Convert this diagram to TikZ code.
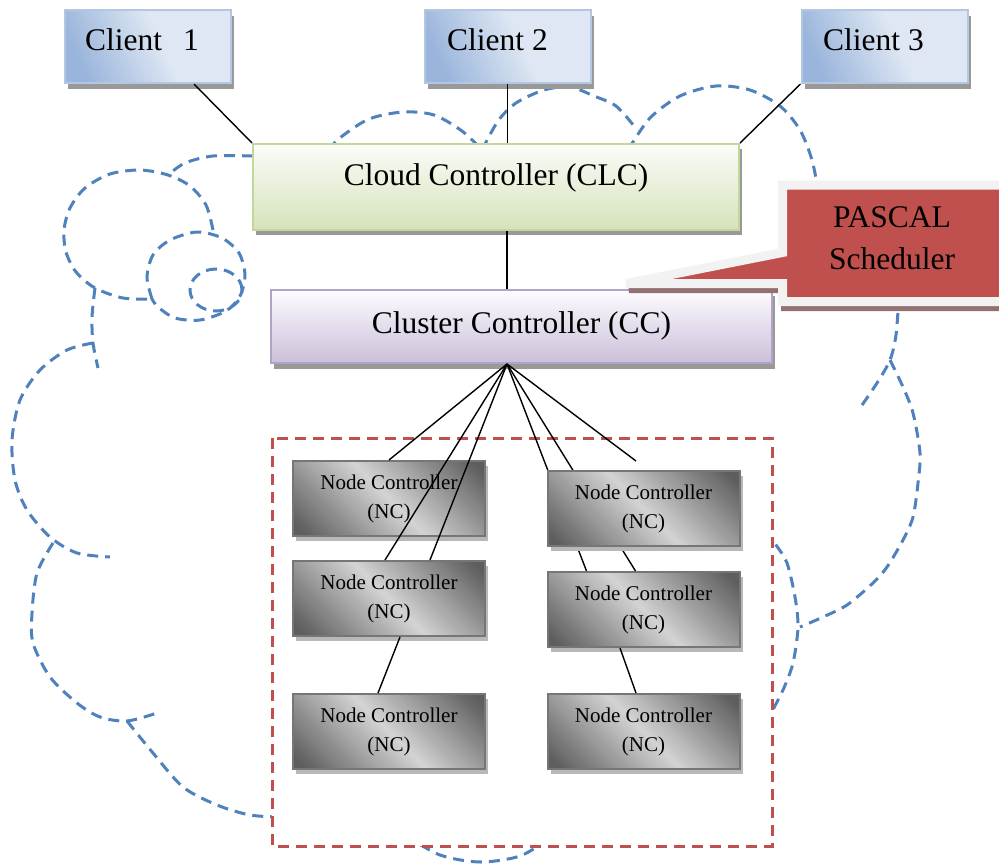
\documentclass[tikz,border=0pt]{standalone}
\usepackage{fontspec}
\setmainfont{Liberation Serif}
\usetikzlibrary{shadows,calc}
\definecolor{cloudblue}{HTML}{4F81BD}
\definecolor{redline}{HTML}{C0504D}
\definecolor{pascalred}{HTML}{C0504D}
\definecolor{pascalborder}{HTML}{F2F2F2}
\definecolor{cldark}{HTML}{9AB5DB}
\definecolor{cllight}{HTML}{DEE7F3}
\definecolor{clborder}{HTML}{B3C7E3}
\definecolor{clctop}{HTML}{FBFCF8}
\definecolor{clcbot}{HTML}{D5E2BB}
\definecolor{clcborder}{HTML}{C3D69B}
\definecolor{cctop}{HTML}{FDFCFE}
\definecolor{ccbot}{HTML}{CBBFDA}
\definecolor{ccborder}{HTML}{B3A2C7}
\definecolor{ncdark}{HTML}{5E5E5E}
\definecolor{nclight}{HTML}{D3D3D3}
\definecolor{ncborder}{HTML}{767676}
\definecolor{shadowgray}{HTML}{999999}
\definecolor{ncshadow}{HTML}{B8B8B8}
\definecolor{redshadow}{HTML}{947070}
\pgfdeclarehorizontalshading{ncshade}{100bp}{color(0bp)=(ncdark); color(18bp)=(ncdark); color(50bp)=(nclight); color(82bp)=(ncdark); color(100bp)=(ncdark)}
\pgfdeclarehorizontalshading{clshade}{100bp}{color(0bp)=(cldark); color(25bp)=(cldark); color(55bp)=(cllight); color(100bp)=(cllight)}
\tikzset{
  cloudline/.style={draw=cloudblue, line width=3pt, dash pattern=on 11pt off 7pt},
  groupbox/.style={draw=redline, line width=3pt, dash pattern=on 11pt off 7pt, fill=white},
  bigfont/.style={font=\fontsize{31.5pt}{42pt}\selectfont},
  clientbox/.style={rectangle, shade, shading=clshade, shading angle=25, draw=clborder, line width=2pt,
    minimum width=166pt, minimum height=73pt, inner sep=0pt, bigfont, text height=21.5pt, text depth=14.5pt,
    general shadow={fill=shadowgray, shadow xshift=3pt, shadow yshift=-6pt}},
  clcbox/.style={rectangle, top color=clctop, bottom color=clcbot, draw=clcborder, line width=2pt,
    minimum width=486pt, minimum height=86pt, inner sep=0pt, bigfont, text height=21.5pt, text depth=25.5pt,
    general shadow={fill=shadowgray, shadow xshift=3pt, shadow yshift=-5pt}},
  ccbox/.style={rectangle, top color=cctop, bottom color=ccbot, draw=ccborder, line width=2pt,
    minimum width=501pt, minimum height=73pt, inner sep=0pt, bigfont, text height=21.5pt, text depth=7pt,
    general shadow={fill=shadowgray, shadow xshift=3pt, shadow yshift=-6pt}},
  ncbox/.style={rectangle, shade, shading=ncshade, shading angle=45, draw=ncborder, line width=2pt,
    minimum width=192pt, minimum height=75pt, inner sep=0pt, align=center, font=\fontsize{21pt}{29pt}\selectfont,
    general shadow={fill=ncshadow, shadow xshift=3pt, shadow yshift=-5pt}},
  pascaltext/.style={bigfont, align=center, inner sep=0pt},
  conn/.style={draw=black, line width=1.4pt}
}
\begin{document}
\begin{tikzpicture}[x=1pt, y=-1pt]
\useasboundingbox (0,0) rectangle (999,865);
% cloud outline
\draw[cloudline] plot[smooth] coordinates {(253,156) (213,156) (185,163) (168,175)};
\draw[cloudline] plot[smooth] coordinates {(213,230) (206,205) (190,186) (168,175) (140,170) (110,174) (85,188) (70,208) (64,230) (66,252) (76,272) (95,288) (123,298) (152,299)};
\draw[cloudline] plot[smooth] coordinates {(152,299) (147,277) (153,255) (170,240) (197,232) (222,238) (239,253) (245,275) (240,296) (226,311) (200,320) (175,318) (158,307) (152,299)};
\draw[cloudline] (216,290) ellipse [x radius=26pt, y radius=21pt];
\draw[cloudline] plot[smooth] coordinates {(95,288) (92,317) (93,343) (98,368)};
\draw[cloudline] plot[smooth] coordinates {(93,343) (67,350) (40,370) (20,400) (12,440) (15,480) (27,510) (50,537) (77,553) (110,557)};
\draw[cloudline] plot[smooth] coordinates {(53,543) (37,573) (32,613) (33,643) (50,677) (77,703) (100,717) (127,721) (157,713)};
\draw[cloudline] plot[smooth] coordinates {(127,721) (153,753) (183,787) (217,805) (250,815) (280,817)};
\draw[cloudline] plot[smooth] coordinates {(405,835) (440,855) (480,862) (520,856) (550,838)};
\draw[cloudline] plot[smooth] coordinates {(899,295) (896,335) (890,360) (877,383) (860,408)};
\draw[cloudline] plot[smooth] coordinates {(890,360) (903,387) (913,413) (920,453) (918,483) (913,517) (903,540) (887,567) (873,583) (847,605) (823,617) (800,627)};
\draw[cloudline] plot[smooth] coordinates {(765,530) (776,545) (787,563) (795,597) (798,627) (793,663) (783,690) (770,715)};
\draw[cloudline] plot[smooth] coordinates {(328,150) (341,137) (369,119) (403,112) (434,115) (462,131) (482,150)};
\draw[cloudline] plot[smooth] coordinates {(482,150) (498,121) (516,103) (544,90) (570,87) (594,96) (616,106) (634,126)};
\draw[cloudline] plot[smooth] coordinates {(628,150) (650,118) (680,96) (716,86) (750,90) (780,106) (800,130) (812,160) (818,190)};
% group of node controllers
\draw[groupbox] (272,438) rectangle (772,846);
% clients and controllers
\node[clientbox] (c1) at (148,46.5) {\hspace*{-6pt}Client\hspace{21pt}1\hspace*{6pt}};
\node[clientbox] (c2) at (507.5,46.5) {\hspace*{-10pt}Client 2\hspace*{10pt}};
\node[clientbox] (c3) at (884.5,46.5) {\hspace*{-11pt}Client 3\hspace*{11pt}};
\node[clcbox] (clc) at (496,187) {Cloud Controller (CLC)};
\node[ccbox] (cc) at (521.5,326.5) {Cluster Controller (CC)};
\draw[conn] ([xshift=-38pt]c1.south east) -- (clc.north west);
\draw[conn] (c2.south) -- (c2.south |- clc.north);
\draw[conn] (c3.south west) -- (clc.north east);
\draw[conn] ([xshift=11pt]clc.south) -- ([xshift=11pt]clc.south |- cc.north);
% PASCAL callout
\path[fill=redshadow, draw=redshadow, line width=9pt, shift={(3,5)}] (782.5,185) -- (1004,185) -- (1004,301.5) -- (782.5,301.5) -- (782.5,283.5) -- (626,283.5) -- (782.5,252.5) -- cycle;
\path[fill=pascalred, draw=pascalborder, line width=9pt] (782.5,185) -- (1004,185) -- (1004,301.5) -- (782.5,301.5) -- (782.5,283.5) -- (626,283.5) -- (782.5,252.5) -- cycle;
\node[pascaltext] (pascal) at (892,238.5) {PASCAL\\Scheduler};
% node controllers
\coordinate (fan) at ([xshift=-14.5pt]cc.south);
\node[ncbox] (nc1) at (389,498.5) {Node Controller\\(NC)};
\node[ncbox] (nc2) at (389,598.5) {Node Controller\\(NC)};
\node[ncbox] (nc3) at (389,731.5) {Node Controller\\(NC)};
\node[ncbox] (nc5) at (643.5,609.5) {Node Controller\\(NC)};
\node[ncbox] (nc6) at (643.5,731.5) {Node Controller\\(NC)};
\draw[conn] (fan) -- ([xshift=40pt]nc5.north west);
\draw[conn] (fan) -- ([xshift=89pt]nc5.north west);
\node[ncbox] (nc4) at (643.5,508.5) {Node Controller\\(NC)};
\coordinate (loose) at (636,461);
\draw[conn] (fan) -- (nc1.north);
\draw[conn] (fan) -- ([xshift=-4pt]nc2.north);
\draw[conn] (fan) -- ([xshift=41pt]nc2.north);
\draw[conn] (fan) -- (loose);
\draw[conn] ([xshift=11pt]nc2.south) -- ([xshift=-11pt]nc3.north);
\draw[conn] ([xshift=-23.5pt]nc5.south) -- ([xshift=-7.5pt]nc6.north);
\end{tikzpicture}
\end{document}
